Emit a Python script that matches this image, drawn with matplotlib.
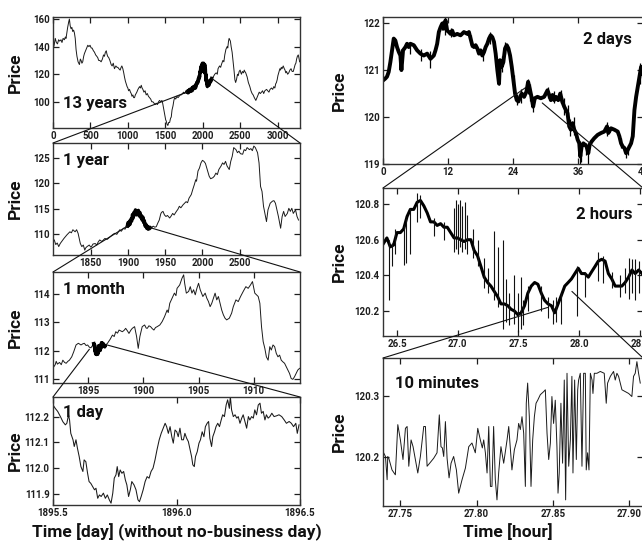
import matplotlib
matplotlib.use("Agg")
import matplotlib.pyplot as plt
from matplotlib.patches import ConnectionPatch

plt.rcParams['font.family'] = ['Roboto', 'DejaVu Sans']
plt.rcParams['font.weight'] = 'semibold'

# ======================= DATA =======================
# Panel "13 years": (day, price)
P13Y = [(0,138),(15,141),(30,146),(45,143),(60,142),(75,145),(90,144),(107,145),(120,143),(135,146),
        (152,145),(165,147),(174,146),(185,150),(196,154),(210,158),(219,160),(230,155),(241,153),(252,154),
        (263,151),(275,152),(286,150),(297,146),(308,138),(320,133),(335,129),(353,127),(365,131),(375,130),
        (386,128),(397,129),(410,133),(420,135),(435,137),(451,139),(465,141),(480,140),(495,141),(510,139),
        (522,139),(540,137),(554,136),(570,134),(585,133),(598,132),(610,130),(625,130),(643,129),(660,131),
        (675,134),(687,133),(700,136),(712,137),(719,135),(730,133),(745,132),(760,130),(777,127),(790,126),
        (805,128),(821,124),(840,126),(855,125),(866,125),(880,124),(897,123),(910,125),(920,126),(933,124),
        (945,121),(955,118),(967,115),(978,113),(990,111),(1000,110),(1010,108),(1022,109),(1035,107),(1045,106),
        (1055,104),(1067,105),(1078,103),(1089,103),(1100,105),(1110,106),(1120,107),(1135,109),(1145,110),(1156,111),
        (1168,110),(1179,112),(1190,110),(1201,109),(1215,107),(1230,108),(1245,105),(1260,106),(1275,104),(1290,103),
        (1305,102),(1320,100),(1335,100),(1350,99),(1365,98),(1379,99),(1395,98),(1410,100),(1424,101),(1440,100),
        (1455,101),(1465,99),(1475,96),(1482,94),(1495,90),(1505,87),(1513,86),(1522,84),(1530,83),(1536,83),
        (1545,85),(1558,85),(1570,88),(1580,89),(1590,94),(1603,97),(1615,101),(1625,103),(1640,102),(1655,104),
        (1670,103),(1685,104),(1700,105),(1714,105),(1730,106),(1745,107),(1759,106),(1775,108),
        (1790,107),(1800,108),(1808,106.5),(1815,107),(1822,109),(1830,109),(1838,107.5),(1848,109),(1855,110),
        (1860,108),(1868,110.5),(1875,111),(1883,109.5),(1893,111),(1900,112),(1905,110),(1910,112.5),(1915,112),
        (1920,114),(1925,113),(1932,115),(1937,114),(1942,117),(1948,116),(1954,119),(1960,118),(1964,122),
        (1968,121),(1972,124),(1975,123),(1980,126),(1985,122),(1988,126),(1991,125),(1995,128),(2000,124),
        (2004,127),(2008,126),(2013,128),(2017,124),(2020,125),(2024,121),(2028,127),(2032,122),(2036,124),
        (2040,118),(2042,120),(2046,115),(2049,117),(2054,113),(2058,114),(2062,111),(2066,113),(2071,112),
        (2075,115),(2080,114),(2084,112),(2088,113),(2094,115),(2100,114),(2105,116),(2112,115),(2120,117),
        (2130,117),(2150,119),(2161,120),(2180,121),(2195,120),(2205,124),(2225,126),(2240,125),(2250,127),
        (2270,130),(2283,129),(2295,134),(2310,138),(2326,140),(2335,139),(2345,144),(2353,146),(2362,145),
        (2370,144),(2380,140),(2393,136),(2405,130),(2420,122),(2430,116),(2440,114),(2451,116),(2465,120),
        (2475,119),(2487,122),(2500,123),(2510,121),(2518,120),(2530,122),(2545,121),(2555,123),(2563,122),
        (2575,121),(2594,118),(2610,114),(2630,111),(2645,108),(2660,106),(2674,105),(2690,103),(2700,102),
        (2710,101),(2725,103),(2741,105),(2755,107),(2770,106),(2786,107),(2800,108),(2815,106),(2830,108),
        (2853,109),(2870,108),(2885,107),(2900,109),(2919,110),(2935,109),(2950,111),(2964,110),(2975,113),
        (2985,114),(2995,116),(3005,119),(3015,121),(3031,124),(3040,123),(3050,125),(3060,124),(3076,126),
        (3090,124),(3100,123),(3110,121),(3120,122),(3135,120),(3150,121),(3165,123),(3180,124),(3195,122),
        (3210,122),(3225,125),(3235,127),(3245,128),(3255,131),(3265,133),(3277,134),(3285,132),(3295,129)]

# Panel "1 year": (day, price)
P1Y = [(1801,108.9),(1803,108.0),(1805,108.3),(1807,107.6),(1809,108.2),(1812,108.8),(1814,109.2),(1818,109.9),
       (1820,110.2),(1822,110.5),(1824,110.3),(1826,110.9),(1829,110.5),(1831,110.9),(1833,110.2),(1834,109.5),
       (1836,108.2),(1838,107.6),(1840,107.9),(1842,106.9),(1843,107.3),(1845,107.6),(1848,107.9),(1850,107.5),
       (1851,107.6),(1853,108.1),(1856,108.2),(1858,107.9),(1860,108.5),(1862,108.9),(1865,108.6),(1869,109.2),
       (1872,109.0),(1876,109.5),(1879,109.9),(1882,110.2),(1885,110.0),(1889,110.9),(1891,110.6),(1894,111.2),
       (1896,111.0),(1898,111.5),
       (1899,111.6),(1900,112.3),(1901,111.7),(1902,112.6),(1903,112.0),(1904,113.0),(1905,112.6),(1906,113.9),
       (1907,113.2),(1908,114.3),(1909,113.9),(1910,114.8),(1911,113.8),(1912,114.6),(1913,114.0),(1914,114.7),
       (1915,113.6),(1916,114.3),(1917,113.3),(1918,113.7),(1919,112.8),(1920,113.4),(1921,112.3),(1922,112.7),
       (1923,111.6),(1924,112.0),(1925,111.2),(1926,111.6),(1927,111.0),(1928,111.4),(1929,111.1),(1930,111.3),
       (1932,111.4),(1934,111.6),(1936,111.4),(1938,111.5),(1940,112.2),(1942,112.8),(1944,114.0),(1945,114.3),
       (1947,114.5),(1949,113.8),(1951,113.5),(1953,113.7),(1956,113.2),(1958,113.6),(1960,114.1),(1962,113.8),
       (1965,114.5),(1967,114.9),(1969,115.5),(1971,115.2),(1974,115.8),(1976,116.1),(1978,116.4),(1980,116.2),
       (1982,117.1),(1985,117.8),(1987,118.8),(1989,119.7),(1991,120.7),(1992,120.4),(1994,122.4),(1996,123.0),
       (1998,124.0),(2000,124.5),(2002,124.3),(2004,123.9),(2005,123.4),(2007,122.4),(2009,121.4),(2011,120.9),
       (2014,121.1),(2016,121.4),(2018,122.0),(2020,121.7),(2022,122.7),(2025,123.4),(2027,124.0),(2029,123.7),
       (2031,124.3),(2033,123.4),(2036,122.7),(2038,124.3),(2040,125.3),(2042,127.0),(2045,126.6),(2047,126.0),
       (2049,126.3),(2051,125.8),(2054,125.7),(2056,126.6),(2058,126.4),(2060,127.0),(2063,126.6),(2065,126.8),
       (2067,126.4),(2069,127.3),(2071,127.0),(2074,126.0),(2076,124.0),(2078,119.4),(2080,118.4),(2082,115.5),
       (2085,113.2),(2086,112.5),(2088,114.8),(2091,116.1),(2094,116.5),(2096,116.6),(2098,116.1),(2100,114.8),
       (2102,113.5),(2105,111.2),(2107,113.5),(2109,114.5),(2111,113.5),(2114,114.1),(2116,115.1),(2118,114.5),
       (2120,115.1),(2122,114.1),(2125,114.8),(2127,113.5),(2129,112.8)]

# Panel "1 month": (day, price), before and after the "1 day" window
P1M_PRE = [(1891.88,111.43),(1892.00,111.50),(1892.09,111.62),(1892.20,111.52),(1892.39,111.58),(1892.55,111.50),
           (1892.69,111.66),(1892.85,111.58),(1892.99,111.55),(1893.15,111.62),(1893.29,111.66),(1893.50,111.78),
           (1893.68,111.96),(1893.89,112.20),(1894.10,112.26),(1894.34,112.20),(1894.50,112.24),(1894.64,112.26),
           (1894.80,112.18),(1894.94,112.20),(1895.10,112.12),(1895.24,112.10),(1895.38,112.18)]
P1M_POST = [(1896.74,112.26),(1896.98,112.40),(1897.19,112.55),(1897.35,112.50),(1897.49,112.67),(1897.65,112.62),
            (1897.79,112.73),(1897.95,112.70),(1898.09,112.67),(1898.25,112.72),(1898.39,112.79),(1898.55,112.70),
            (1898.69,112.61),(1898.85,112.72),(1898.99,112.79),(1899.20,112.85),(1899.38,112.50),(1899.53,112.08),
            (1899.68,112.50),(1899.89,112.85),(1900.11,112.91),(1900.25,112.80),(1900.35,112.79),(1900.50,112.88),
            (1900.65,112.85),(1900.80,112.78),(1900.95,112.73),(1901.10,112.82),(1901.25,112.85),(1901.49,112.91),
            (1901.70,113.03),(1901.91,113.20),(1902.15,113.44),(1902.25,113.35),(1902.39,113.68),(1902.60,113.86),
            (1902.81,114.04),(1902.95,113.95),(1903.05,114.21),(1903.29,114.33),(1903.50,114.57),(1903.65,114.69),
            (1903.74,114.39),(1903.89,114.04),(1904.10,114.10),(1904.25,114.27),(1904.40,114.04),(1904.55,114.16),
            (1904.70,113.98),(1904.85,114.21),(1905.00,114.39),(1905.15,114.16),(1905.39,113.92),(1905.60,114.04),
            (1905.75,113.86),(1905.90,113.74),(1906.05,113.56),(1906.20,113.68),(1906.35,113.86),(1906.50,114.04),
            (1906.65,113.80),(1906.80,113.92),(1906.95,113.68),(1907.10,113.44),(1907.25,113.27),(1907.40,113.15),
            (1907.55,113.09),(1907.79,113.15),(1908.00,113.33),(1908.15,113.56),(1908.39,113.80),(1908.60,113.74),
            (1908.81,113.92),(1909.05,114.10),(1909.29,114.27),(1909.50,114.21),(1909.71,114.33),(1909.89,114.45),
            (1910.10,114.04),(1910.26,113.98),(1910.41,113.92),(1910.56,113.68),(1910.71,112.85),(1910.86,112.32),
            (1911.01,112.08),(1911.15,111.78),(1911.31,111.66),(1911.46,112.14),(1911.60,112.02),(1911.75,112.20),
            (1911.90,112.14),(1912.05,111.90),(1912.20,111.78),(1912.35,111.84),(1912.50,111.66),(1912.65,111.60),
            (1912.80,111.55),(1912.95,111.43),(1913.10,111.31),(1913.25,111.19),(1913.40,111.01),(1913.55,110.98),
            (1913.70,111.07),(1913.85,111.19),(1914.00,111.31),(1914.16,111.37)]

# Panel "1 day": time offset from day 1895.5, price
DAY1_START = 1895.5
T1D = [0.000,0.009,0.019,0.030,0.040,0.050,0.056,0.063,0.067,0.072,
       0.081,0.086,0.093,0.099,0.106,0.113,0.121,0.126,0.133,0.140,
       0.146,0.153,0.161,0.168,0.174,0.181,0.188,0.195,0.204,0.212,
       0.220,0.228,0.235,0.242,0.248,0.255,0.260,0.266,0.272,0.279,
       0.286,0.293,0.299,0.306,0.313,0.319,0.328,0.336,0.344,0.350,
       0.357,0.365,0.373,0.381,0.389,0.397,0.405,0.413,0.421,0.430,
       0.438,0.446,0.454,0.460,0.467,0.474,0.481,0.487,0.494,0.501,
       0.507,0.514,0.521,0.528,0.534,0.541,0.548,0.554,0.561,0.566,
       0.572,0.577,0.584,0.591,0.597,0.604,0.611,0.617,0.624,0.630,
       0.635,0.642,0.647,0.654,0.660,0.667,0.674,0.681,0.687,0.694,
       0.701,0.707,0.714,0.718,0.723,0.730,0.737,0.744,0.750,0.757,
       0.764,0.770,0.777,0.784,0.791,0.797,0.804,0.811,0.817,0.824,
       0.831,0.838,0.844,0.851,0.858,0.864,0.871,0.878,0.886,0.895,
       0.905,0.915,0.926,0.936,0.945,0.956,0.965,0.974,0.983,0.989,0.996]
Y1D = [112.245,112.232,112.220,112.200,112.180,112.168,112.174,112.207,112.187,112.135,
       112.110,112.084,112.110,112.077,112.045,112.006,111.987,112.032,112.025,111.980,
       111.948,111.941,111.928,111.916,111.922,111.883,111.896,111.890,111.903,111.883,
       111.896,111.877,111.864,111.903,111.961,111.974,112.006,111.967,111.993,111.980,
       111.987,111.954,111.935,111.890,111.916,111.948,111.935,111.916,111.877,111.870,
       111.890,111.916,111.948,111.967,111.961,111.987,112.000,112.032,112.071,112.110,
       112.135,112.155,112.174,112.161,112.135,112.161,112.122,112.097,112.148,112.141,
       112.122,112.155,112.110,112.110,112.135,112.116,112.103,112.077,112.045,112.013,
       112.006,112.045,112.064,112.097,112.110,112.141,112.122,112.161,112.174,112.181,
       112.116,112.084,112.122,112.141,112.161,112.174,112.161,112.187,112.207,112.200,
       112.245,112.265,112.232,112.278,112.226,112.200,112.207,112.194,112.200,112.174,
       112.194,112.207,112.181,112.155,112.200,112.187,112.200,112.194,112.226,112.207,
       112.245,112.252,112.213,112.220,112.187,112.207,112.194,112.200,112.213,112.200,
       112.203,112.207,112.200,112.187,112.174,112.181,112.174,112.161,112.174,112.135,112.168]

# Panel "2 days": (hour, price) and spikes (hour, low, high)
P2D = [(0.12,120.79),(0.43,120.82),(0.74,120.86),(1.05,120.96),(1.36,121.17),(1.67,121.42),(1.98,121.67),(2.28,121.63),
       (2.59,121.49),(2.90,121.39),(3.21,121.31),(3.40,121.00),(3.70,121.42),(4.14,121.49),(4.44,121.56),(4.75,121.49),
       (5.06,121.56),(5.68,121.53),(6.30,121.42),(6.91,121.35),(7.53,121.31),(8.15,121.35),(8.77,121.24),(9.38,121.31),
       (9.69,121.42),(10.00,121.56),(10.31,121.81),(10.62,121.91),(10.93,121.99),(11.23,121.88),(11.54,122.06),(11.85,121.84),
       (12.16,121.81),(12.47,121.77),(12.78,121.84),(13.09,121.74),(13.70,121.77),(14.32,121.74),(14.94,121.81),(15.56,121.77),
       (15.86,121.81),(16.17,121.67),(16.48,121.53),(16.79,121.49),(17.10,121.53),(17.41,121.46),(17.72,121.35),(18.02,121.42),
       (18.33,121.31),(18.64,121.38),(18.95,121.49),(19.26,121.56),(19.57,121.67),(19.88,121.74),(20.19,121.70),(20.49,121.60),
       (20.80,121.35),(21.11,121.00),(21.42,120.71),(21.60,121.21),(21.91,121.07),(22.22,121.17),(22.53,121.46),(22.84,121.53),
       (23.15,121.46),(23.46,121.31),(23.77,121.07),(24.07,120.79),(24.38,120.50),(24.69,120.36),(25.00,120.33),(25.31,120.43),
       (25.62,120.50),(26.05,120.43),(26.48,120.54),(26.79,120.75),(27.10,120.60),(27.41,120.43),(27.72,120.22),(28.02,120.40),
       (28.52,120.43),(29.14,120.40),(29.75,120.43),(30.37,120.57),(30.68,120.47),(30.99,120.36),(31.30,120.47),(31.60,120.36),
       (31.91,120.43),(32.35,120.36),(32.72,120.50),(33.09,120.33),(33.46,120.22),(33.77,120.15),(34.07,120.08),(34.38,119.80),
       (34.69,119.73),(35.00,119.87),(35.31,119.73),(35.62,119.66),(35.93,119.52),(36.23,119.44),(36.42,119.16),(36.67,119.37),
       (36.98,119.44),(37.28,119.41),(37.59,119.37),(37.90,119.23),(38.15,119.41),(38.52,119.48),(39.01,119.55),(39.63,119.62),
       (40.25,119.66),(40.86,119.69),(41.36,119.80),(41.60,119.66),(42.10,119.76),(42.72,119.73),(43.33,119.69),(43.64,119.59),
       (43.95,119.44),(44.26,119.37),(44.57,119.34),(44.88,119.23),(45.19,119.30),(45.49,119.37),(45.80,119.44),(46.11,119.59),
       (46.42,120.15),(46.73,120.43),(47.04,120.64),(47.35,120.86),(47.65,121.07),(47.96,120.93)]
S2D = [(3.4,121.0,121.45),(5.0,121.35,121.6),(7.0,121.2,121.45),(8.7,121.05,121.4),(10.9,121.85,122.05),
       (11.5,121.75,122.12),(12.6,121.7,121.9),(16.3,121.5,121.75),(18.4,121.2,121.45),(19.7,121.55,121.8),
       (21.2,120.85,121.2),(21.4,120.68,121.15),(22.0,120.95,121.3),(22.6,121.35,121.6),(24.2,120.5,120.9),
       (24.7,120.25,120.5),(25.5,120.3,120.6),(26.8,120.5,120.8),(27.2,120.35,120.7),(27.7,120.1,120.4),
       (30.4,120.4,120.65),(31.5,120.3,120.55),(32.8,120.3,120.58),(33.5,120.05,120.4),(34.1,119.8,120.25),
       (34.5,119.6,119.95),(35.2,119.62,120.0),(36.3,119.0,119.5),(36.5,119.05,119.45),(37.4,119.2,119.45),
       (37.9,119.0,119.45),(41.4,119.6,119.9),(43.9,119.35,119.55),(44.9,119.12,119.35),(45.3,119.2,119.4),
       (47.5,120.7,121.15),(47.8,120.9,121.12)]

# Panel "2 hours": (hour, price) and spikes (hour, low, high)
P2H = [(26.390,120.58),(26.417,120.61),(26.445,120.56),(26.472,120.57),(26.500,120.64),(26.528,120.64),(26.555,120.66),
       (26.583,120.73),(26.610,120.77),(26.638,120.77),(26.666,120.81),(26.693,120.82),(26.721,120.79),(26.749,120.75),
       (26.776,120.70),(26.804,120.70),(26.831,120.68),(26.859,120.69),(26.887,120.67),(26.914,120.67),(26.942,120.64),
       (26.970,120.61),(26.997,120.61),(27.025,120.60),(27.052,120.59),(27.080,120.60),(27.108,120.60),(27.135,120.54),
       (27.163,120.51),(27.191,120.45),(27.218,120.39),(27.246,120.36),(27.273,120.34),(27.301,120.31),(27.329,120.28),
       (27.356,120.24),(27.384,120.24),(27.412,120.23),(27.439,120.21),(27.467,120.20),(27.494,120.18),(27.522,120.19),
       (27.550,120.23),(27.577,120.30),(27.605,120.34),(27.633,120.36),(27.660,120.35),(27.688,120.30),(27.715,120.26),
       (27.743,120.24),(27.771,120.23),(27.798,120.19),(27.826,120.24),(27.854,120.29),(27.881,120.34),(27.909,120.36),
       (27.936,120.38),(27.964,120.41),(27.992,120.44),(28.019,120.41),(28.047,120.41),(28.075,120.39),(28.102,120.42),
       (28.130,120.45),(28.157,120.48),(28.185,120.49),(28.213,120.48),(28.240,120.41),(28.268,120.38),(28.296,120.34),
       (28.323,120.34),(28.351,120.34),(28.378,120.36),(28.406,120.39),(28.434,120.43),(28.461,120.41),(28.489,120.43),
       (28.517,120.41)]
S2H = [(26.431,120.26,120.60),(26.459,120.45,120.58),(26.486,120.52,120.66),(26.555,120.46,120.68),(26.577,120.47,120.72),
       (26.605,120.52,120.78),(26.666,120.70,120.86),(26.693,120.72,120.85),(26.804,120.62,120.72),(26.887,120.60,120.70),
       (26.970,120.53,120.78),(26.983,120.55,120.82),(27.003,120.52,120.80),(27.019,120.56,120.82),(27.039,120.53,120.79),
       (27.058,120.55,120.81),(27.080,120.52,120.74),(27.122,120.50,120.66),(27.163,120.45,120.60),(27.218,120.33,120.50),
       (27.246,120.30,120.44),(27.301,120.26,120.65),(27.329,120.22,120.56),(27.370,120.10,120.60),(27.398,120.14,120.38),
       (27.425,120.12,120.30),(27.461,120.13,120.40),(27.494,120.08,120.30),(27.517,120.10,120.39),(27.536,120.12,120.26),
       (27.577,120.20,120.34),(27.688,120.20,120.34),(27.743,120.16,120.28),(27.785,120.13,120.26),(27.812,120.14,120.28),
       (27.854,120.13,120.30),(27.978,120.17,120.45),(28.047,120.28,120.42),(28.157,120.37,120.53),(28.199,120.36,120.51),
       (28.268,120.33,120.42),(28.337,120.28,120.40),(28.378,120.30,120.44),(28.406,120.27,120.50),(28.434,120.30,120.49),
       (28.461,120.26,120.49),(28.489,120.30,120.48)]

# Panel "10 minutes": (hour, price)
P10M = [(27.7386,120.209),(27.7402,120.201),(27.7413,120.163),(27.7417,120.201),(27.7424,120.198),(27.7445,120.179),
        (27.7467,120.171),(27.7483,120.253),(27.7500,120.228),(27.7517,120.196),(27.7533,120.247),(27.7544,120.250),
        (27.7555,120.185),(27.7570,120.228),(27.7583,120.217),(27.7598,120.196),(27.7614,120.174),(27.7631,120.201),
        (27.7653,120.250),(27.7664,120.250),(27.7675,120.185),(27.7692,120.190),(27.7718,120.198),(27.7740,120.207),
        (27.7755,120.269),(27.7766,120.217),(27.7775,120.215),(27.7784,120.201),(27.7795,120.258),(27.7806,120.198),
        (27.7819,120.166),(27.7832,120.190),(27.7849,120.201),(27.7867,120.179),(27.7882,120.141),(27.7904,120.163),
        (27.7926,120.182),(27.7948,120.217),(27.7969,120.223),(27.7991,120.207),(27.8007,120.247),(27.8024,120.228),
        (27.8037,120.215),(27.8046,120.228),(27.8057,120.207),(27.8068,120.174),(27.8079,120.250),(27.8090,120.152),
        (27.8100,120.152),(27.8111,120.250),(27.8122,120.163),(27.8133,120.130),(27.8144,120.174),(27.8159,120.217),
        (27.8177,120.190),(27.8199,120.228),(27.8210,120.250),(27.8231,120.179),(27.8247,120.212),(27.8264,120.228),
        (27.8275,120.255),(27.8286,120.245),(27.8297,120.266),(27.8308,120.239),(27.8319,120.152),(27.8325,120.288),
        (27.8334,120.321),(27.8345,120.266),(27.8356,120.152),(27.8367,120.228),(27.8378,120.266),(27.8389,120.288),
        (27.8400,120.293),(27.8417,120.302),(27.8439,120.307),(27.8450,120.310),(27.8461,120.239),(27.8472,120.196),
        (27.8483,120.223),(27.8493,120.299),(27.8504,120.255),(27.8515,120.293),(27.8526,120.217),(27.8533,120.141),
        (27.8541,120.174),(27.8552,120.288),(27.8563,120.190),(27.8574,120.326),(27.8583,120.130),(27.8592,120.337),
        (27.8603,120.185),(27.8614,120.228),(27.8624,120.332),(27.8631,120.174),(27.8642,120.326),(27.8653,120.196),
        (27.8662,120.310),(27.8668,120.326),(27.8679,120.337),(27.8690,120.185),(27.8701,120.337),(27.8712,120.337),
        (27.8718,120.179),(27.8727,120.207),(27.8736,120.179),(27.8745,120.337),(27.8756,120.326),(27.8762,120.304),
        (27.8771,120.337),(27.8788,120.337),(27.8810,120.340),(27.8836,120.337),(27.8849,120.288),(27.8858,120.321),
        (27.8876,120.332),(27.8897,120.340),(27.8908,120.326),(27.8919,120.337),(27.8930,120.332),(27.8941,120.321),
        (27.8952,120.310),(27.8974,120.307),(27.8996,120.304),(27.9017,120.299),(27.9028,120.332),(27.9039,120.337),
        (27.9050,120.356),(27.9061,120.337),(27.9072,120.321)]

# Tick values / labels
X13Y_TICKS = [0, 500, 1000, 1500, 2000, 2500, 3000]
Y13Y_TICKS = [100, 120, 140, 160]
X1Y_TICKS = [1850, 1900, 1950, 2000, 2050]
X1Y_LABELS = ['1850', '1900', '1950', '2000', '2500']
Y1Y_TICKS = [110, 115, 120, 125]
X1M_TICKS = [1895, 1900, 1905, 1910]
Y1M_TICKS = [111, 112, 113, 114]
X1D_TICKS = [1895.5, 1896.0, 1896.5]
Y1D_TICKS = [111.9, 112.0, 112.1, 112.2]
X2D_TICKS = [0, 12, 24, 36, 48]
Y2D_TICKS = [119, 120, 121, 122]
X2H_TICKS = [26.5, 27.0, 27.5, 28.0, 28.5]
Y2H_TICKS = [120.2, 120.4, 120.6, 120.8]
X10M_TICKS = [27.75, 27.80, 27.85, 27.90]
Y10M_TICKS = [120.2, 120.3]

# ======================= FIGURE =======================
W, H = 642, 542
fig = plt.figure(figsize=(W / 100, H / 100), dpi=100)
LINE = '#1a1a1a'


def px_axes(l, t, r, b):
    return fig.add_axes([l / W, 1 - b / H, (r - l) / W, (b - t) / H])


def style(ax, xticks, yticks, xfmt, yfmt, xlabels=None):
    ax.set_xticks(xticks)
    ax.set_xticklabels(xlabels if xlabels else [xfmt.format(v) for v in xticks])
    ax.set_yticks(yticks)
    ax.set_yticklabels([yfmt.format(v) for v in yticks])
    ax.tick_params(direction='in', top=True, right=True, length=4, width=0.9,
                   labelsize=7, pad=2.5, colors='#1e1e1e')
    for s in ax.spines.values():
        s.set_linewidth(1.0)
        s.set_color('#333333')
    ax.set_ylabel('Price', fontsize=12.5, fontweight='bold', color='#111111')


def xy(pts):
    return [p[0] for p in pts], [p[1] for p in pts]


def plot_with_thick(ax, pts, lo, hi, lw=0.7, lwt=2.4):
    x, y = xy(pts)
    ax.plot(x, y, color=LINE, lw=lw)
    sub = [p for p in pts if lo <= p[0] <= hi]
    xs, ys = xy(sub)
    ax.plot(xs, ys, color='#000000', lw=lwt, solid_joinstyle='round')


# ---- left column ----
ax1 = px_axes(53, 17, 300, 128)
plot_with_thick(ax1, P13Y, 1790, 2120)
ax1.set_xlim(0, 3300)
ax1.set_ylim(81, 161.5)
style(ax1, X13Y_TICKS, Y13Y_TICKS, '{:d}', '{:d}')

ax2 = px_axes(53, 143, 300, 255)
plot_with_thick(ax2, P1Y, 1899, 1930)
ax2.set_xlim(1799.3, 2131)
ax2.set_ylim(105.95, 127.9)
style(ax2, X1Y_TICKS, Y1Y_TICKS, '{:d}', '{:d}', X1Y_LABELS)

P1D = [(DAY1_START + t, v) for t, v in zip(T1D, Y1D)]
ax3 = px_axes(53, 272, 300, 383)
plot_with_thick(ax3, P1M_PRE + P1D + P1M_POST, DAY1_START, DAY1_START + 1.0, lwt=2.6)
ax3.set_xlim(1891.8, 1914.2)
ax3.set_ylim(110.85, 114.79)
style(ax3, X1M_TICKS, Y1M_TICKS, '{:d}', '{:d}')

ax4 = px_axes(53, 397, 300, 505)
x4, y4 = xy(P1D)
ax4.plot(x4, y4, color=LINE, lw=0.75)
ax4.set_xlim(1895.5, 1896.5)
ax4.set_ylim(111.857, 112.276)
style(ax4, X1D_TICKS, Y1D_TICKS, '{:.1f}', '{:.1f}')

# ---- right column ----
ax5 = px_axes(383, 17, 643, 164)
x5, y5 = xy(P2D)
ax5.plot(x5, y5, color='#000000', lw=2.8, solid_joinstyle='round')
ax5.vlines([s[0] for s in S2D], [s[1] for s in S2D], [s[2] for s in S2D], color='#000000', lw=0.9)
ax5.set_xlim(0, 48)
ax5.set_ylim(119, 122.13)
style(ax5, X2D_TICKS, Y2D_TICKS, '{:d}', '{:d}')

ax6 = px_axes(383, 188, 643, 336)
x6, y6 = xy(P2H)
ax6.plot(x6, y6, color='#000000', lw=2.2, solid_joinstyle='round')
ax6.vlines([s[0] for s in S2H], [s[1] for s in S2H], [s[2] for s in S2H], color='#111111', lw=0.8)
ax6.set_xlim(26.385, 28.525)
ax6.set_ylim(120.06, 120.89)
style(ax6, X2H_TICKS, Y2H_TICKS, '{:.1f}', '{:.1f}')

ax7 = px_axes(383, 358, 643, 506)
x7, y7 = xy(P10M)
ax7.plot(x7, y7, color=LINE, lw=0.7)
ax7.set_xlim(27.7386, 27.909)
ax7.set_ylim(120.12, 120.362)
style(ax7, X10M_TICKS, Y10M_TICKS, '{:.2f}', '{:.1f}')

# y-label anchor = right edge of the rotated text
for ax in (ax1, ax2, ax3, ax4):
    ax.yaxis.set_label_coords(-0.121, 0.5)
for ax in (ax5, ax6, ax7):
    ax.yaxis.set_label_coords(-0.138, 0.5)

# ---- panel titles ----
TXT = dict(fontsize=12, fontweight='bold', color='#111111', va='center')
ax1.text(0.04, 0.225, '13 years', transform=ax1.transAxes, ha='left', **TXT)
ax2.text(0.04, 0.84, '1 year', transform=ax2.transAxes, ha='left', **TXT)
ax3.text(0.04, 0.84, '1 month', transform=ax3.transAxes, ha='left', **TXT)
ax4.text(0.04, 0.86, '1 day', transform=ax4.transAxes, ha='left', **TXT)
ax5.text(0.958, 0.845, '2 days', transform=ax5.transAxes, ha='right', **TXT)
ax6.text(0.958, 0.82, '2 hours', transform=ax6.transAxes, ha='right', **TXT)
ax7.text(0.046, 0.83, '10 minutes', transform=ax7.transAxes, ha='left', **TXT)


# ---- zoom connectors ----
def connect(axA, pt, axB, corner):
    con = ConnectionPatch(xyA=pt, coordsA=axA.transData, xyB=corner, coordsB=axB.transAxes,
                          color='#111111', lw=0.8, zorder=10, clip_on=False)
    fig.add_artist(con)


connect(ax1, (1790, 107), ax2, (0, 1))
connect(ax1, (2120, 117), ax2, (1, 1))
connect(ax2, (1899, 111.6), ax3, (0, 1))
connect(ax2, (1930, 111.3), ax3, (1, 1))
connect(ax3, (1895.1, 112.05), ax4, (0, 1))
connect(ax3, (1896.7, 112.2), ax4, (1, 1))
connect(ax5, (26.36, 120.63), ax6, (0, 1))
connect(ax5, (29.4, 120.3), ax6, (1, 1))
connect(ax6, (27.74, 120.22), ax7, (0, 1))
connect(ax6, (27.94, 120.31), ax7, (1, 1))

# ---- axis titles ----
fig.text(177 / W, 1 - 532 / H, 'Time [day] (without no-business day)', ha='center', va='center',
         fontsize=12.5, fontweight='bold', color='#111111')
fig.text(508 / W, 1 - 532 / H, 'Time [hour]', ha='center', va='center',
         fontsize=12.5, fontweight='bold', color='#111111')

fig.savefig('out.png', dpi=100)
